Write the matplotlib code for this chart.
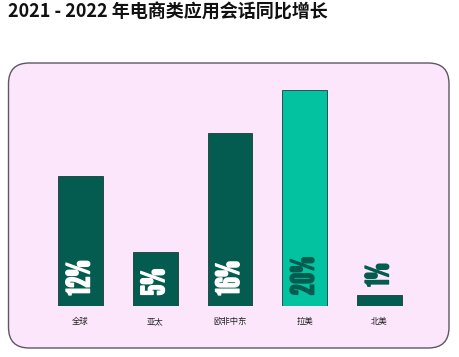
import matplotlib.pyplot as plt
import matplotlib.patheffects as pe
from matplotlib.patches import FancyBboxPatch

# 数据
regions = ["全球", "亚太", "欧非中东", "拉美", "北美"]
growth = [12, 5, 16, 20, 1]
labels = ["12%", "5%", "16%", "20%", "1%"]
highlight = "拉美"

DARK = "#045b50"
LIGHT = "#02c29f"
PINK = "#fbe6fb"
W, H = 460, 357

fig = plt.figure(figsize=(W / 100, H / 100), dpi=100)
fig.patch.set_facecolor("white")

# 圆角背景框 (像素 -> figure 坐标)
x0, y0, x1, y1 = 8.5, 63, 449, 348
box = FancyBboxPatch(
    (x0 / W, 1 - y1 / H), (x1 - x0) / W, (y1 - y0) / H,
    boxstyle="round,pad=0,rounding_size=0.045",
    transform=fig.transFigure, facecolor=PINK, edgecolor="#5e5763",
    linewidth=1.0, mutation_aspect=W / H, zorder=-5,
)
fig.patches.append(box)

fig.text(8 / W, 1 - 12 / H, "2021 - 2022 年电商类应用会话同比增长",
         family=["Noto Sans CJK SC", "DejaVu Sans"], fontsize=13,
         fontweight="semibold", color="#111111", va="center", ha="left")

# 坐标轴: 底线在 y=306px, 每 1% 约 10.8px
base = 306
ax = fig.add_axes([x0 / W, 1 - base / H, (x1 - x0) / W, (base - y0) / H])
ax.set_facecolor("none")
ax.set_zorder(2)
step = 74.75
ax.set_xlim(-(80.5 - x0) / step, (x1 - 80.5) / step)
ax.set_ylim(0, (base - y0) / 10.8)

xs = range(len(regions))
colors = [LIGHT if r == highlight else DARK for r in regions]
ax.bar(xs, growth, width=0.6, color=colors, edgecolor="#1d3a36", linewidth=0.6)

for x, v, lab, r in zip(xs, growth, labels, regions):
    inside = v >= 3
    tc = "white" if (inside and r != highlight) else DARK
    ax.annotate(lab, (x, v if not inside else 0), xytext=(0, 6 if not inside else 7.5),
                textcoords="offset points", rotation=90, ha="center", va="bottom",
                family=["League Gothic", "Anton"], fontsize=23, color=tc,
                path_effects=[pe.withStroke(linewidth=1.0, foreground=tc)])

ax.set_xticks(list(xs))
ax.set_xticklabels(regions, family=["Noto Sans CJK SC", "DejaVu Sans"], fontsize=6, color="#222222")
ax.tick_params(axis="x", length=0, pad=8)
ax.set_yticks([])
for s in ax.spines.values():
    s.set_visible(False)

fig.savefig("out.png", dpi=100)
